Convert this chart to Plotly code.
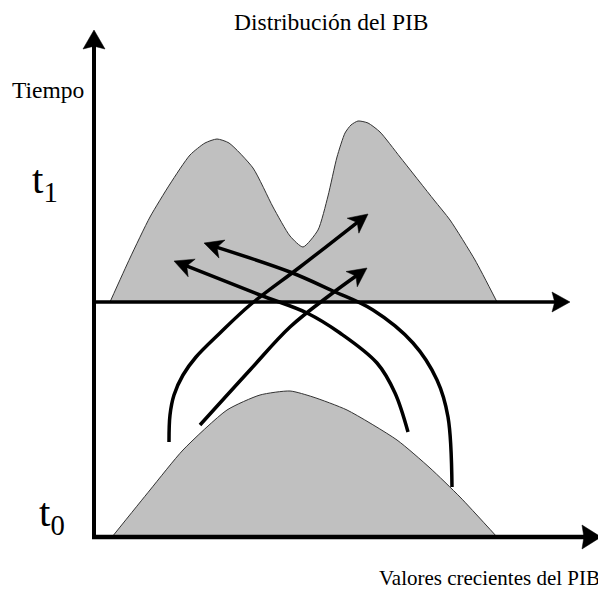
import math
import plotly.graph_objects as go

W, H = 606, 594
PAGE_MARGIN = 8  # default body margin of the html page

# ---- data (drawing units: x to the right, y downward) ----
# distribution of GDP at t1 (bimodal), baseline = t1 axis
top_x = [110, 130, 150, 170, 190, 205, 217, 229, 253, 273, 290, 303, 318, 328, 337, 345, 351, 358, 368, 380, 400, 434, 450, 475, 497]
top_y = [302, 258, 217, 184, 155, 143, 139, 143, 168, 207, 236, 247, 230, 196, 157, 133, 125, 121, 123, 132, 157, 200, 220, 260, 302]

# distribution of GDP at t0 (unimodal), baseline = t0 axis
bot_x = [112, 150, 183, 227, 260, 290, 313, 347, 397, 430, 460, 497]
bot_y = [537, 490, 450, 410, 395, 391, 397, 410, 440, 468, 497, 537]

# transition arrows (start -> tip)
arrA_x = [169, 170, 174, 183, 196, 220, 250, 300, 368]
arrA_y = [442, 415, 395, 375, 357, 333, 305, 267, 214]
arrB_x = [200, 250, 290, 330, 367]
arrB_y = [425, 370, 327, 295, 268]
arrC_x = [452, 448, 437, 413, 373, 333, 290, 204]
arrC_y = [487, 417, 380, 343, 310, 291, 272, 243]
arrD_x = [408, 395, 377, 340, 307, 260, 174]
arrD_y = [432, 393, 363, 333, 313, 295, 261]

# axes
origin = (94, 537)
y_axis_top = 30
t1_level = 302
t1_axis_end = 570
t0_axis_end = 601

title_text = "Distribución del PIB"
ylabel_text = "Tiempo"
xlabel_text = "Valores crecientes del PIB"
t1_text = "t<sub>1</sub>"
t0_text = "t<sub>0</sub>"

FONT = "Liberation Serif"

fig = go.Figure()


def head_poly(tip, prev, L, Wd, notch=0.72):
    tx, ty = tip
    px, py = prev
    dx, dy = tx - px, ty - py
    n = math.hypot(dx, dy)
    ux, uy = dx / n, dy / n
    nx, ny = -uy, ux
    bx, by = tx - L * ux, ty - L * uy
    xs = [tx, bx + Wd * nx, tx - notch * L * ux, bx - Wd * nx, tx]
    ys = [ty, by + Wd * ny, ty - notch * L * uy, by - Wd * ny, ty]
    shaft_end = (tx - 0.6 * L * ux, ty - 0.6 * L * uy)
    return xs, ys, shaft_end


def add_arrow(xs, ys, width, L, Wd, notch=0.72, shape="spline"):
    hx, hy, se = head_poly((xs[-1], ys[-1]), (xs[-2], ys[-2]), L, Wd, notch)
    lx = list(xs[:-1]) + [se[0]]
    ly = list(ys[:-1]) + [se[1]]
    fig.add_trace(go.Scatter(x=lx, y=ly, mode="lines",
                             line=dict(color="black", width=width, shape=shape, smoothing=1.0),
                             hoverinfo="skip", showlegend=False))
    fig.add_trace(go.Scatter(x=hx, y=hy, mode="lines", fill="toself", fillcolor="black",
                             line=dict(color="black", width=0.5),
                             hoverinfo="skip", showlegend=False))


# distributions
for xs, ys in ((top_x, top_y), (bot_x, bot_y)):
    fig.add_trace(go.Scatter(x=xs, y=ys, mode="lines", fill="toself", fillcolor="#c0c0c0",
                             line=dict(color="#333333", width=1, shape="spline", smoothing=0.6),
                             hoverinfo="skip", showlegend=False))

# axes
add_arrow([origin[0], origin[0]], [origin[1] + 2, y_axis_top], 4, 19, 11, 0.85, "linear")
add_arrow([origin[0] - 2, t1_axis_end], [t1_level, t1_level], 3.5, 18, 10, 0.85, "linear")
add_arrow([origin[0] - 2, t0_axis_end], [origin[1], origin[1]], 4.5, 19, 12, 0.9, "linear")

# transition arrows
for xs, ys in ((arrA_x, arrA_y), (arrB_x, arrB_y), (arrC_x, arrC_y), (arrD_x, arrD_y)):
    add_arrow(xs, ys, 3.5, 19, 9.5)

annos = [
    dict(x=331, y=22, text=title_text, size=23.5, xanchor="center"),
    dict(x=48, y=90, text=ylabel_text, size=23.5, xanchor="center"),
    dict(x=602, y=578, text=xlabel_text, size=21, xanchor="right"),
    dict(x=30, y=182, text=t1_text, size=41, xanchor="left"),
    dict(x=37, y=515, text=t0_text, size=41, xanchor="left"),
]
for a in annos:
    fig.add_annotation(x=a["x"], y=a["y"], xref="x", yref="y", text=a["text"], showarrow=False,
                       xanchor=a["xanchor"], yanchor="middle",
                       font=dict(family=FONT, size=a["size"], color="black"))

fig.update_xaxes(range=[PAGE_MARGIN, W], visible=False, fixedrange=True)
fig.update_yaxes(range=[H, PAGE_MARGIN], visible=False, fixedrange=True)
fig.update_layout(width=W - PAGE_MARGIN, height=H - PAGE_MARGIN, autosize=False,
                  margin=dict(l=0, r=0, t=0, b=0),
                  paper_bgcolor="white", plot_bgcolor="white", showlegend=False)

fig.write_html("out.html")
